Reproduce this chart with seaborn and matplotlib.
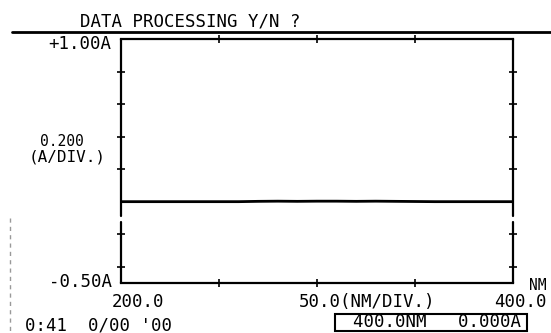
import matplotlib
matplotlib.use("Agg")
import matplotlib.pyplot as plt
from matplotlib.patches import Rectangle
from matplotlib.lines import Line2D
import seaborn as sns
import pandas as pd

# Scan data: wavelength (nm) vs absorbance (A)
wavelength_nm = [200, 230, 260, 270, 280, 290, 300, 310, 320, 330, 340, 350, 360, 380, 400]
absorbance = [0.000, 0.000, 0.000, 0.002, 0.003, 0.002, 0.003, 0.003, 0.002, 0.003, 0.002, 0.001, 0.000, 0.000, 0.000]

x_range = [200.0, 400.0]
y_range = [-0.50, 1.00]
x_ticks = [250, 300, 350]
y_ticks = [-0.4, -0.2, 0.2, 0.4, 0.6, 0.8]

sns.set_style("white")
plt.rcParams['font.family'] = ['DejaVu Sans Mono']

W, H = 551, 333
fig = plt.figure(figsize=(W / 100, H / 100), dpi=100)
ax = fig.add_axes([121 / W, 1 - 283 / H, 392 / W, 244 / H])

df = pd.DataFrame({"nm": wavelength_nm, "A": absorbance})
sns.lineplot(data=df, x="nm", y="A", ax=ax, color="black", lw=2.0)

ax.set_xlim(*x_range)
ax.set_ylim(*y_range)
ax.set_xticks(x_ticks)
ax.set_yticks(y_ticks)
ax.set_xlabel("")
ax.set_ylabel("")
ax.tick_params(direction="inout", length=6, width=1.2, color="black",
               top=True, right=True, bottom=True, left=True,
               labelleft=False, labelbottom=False)

# frame: top and bottom full, side walls broken just below the baseline
for side in ("top", "bottom"):
    ax.spines[side].set_color("black")
    ax.spines[side].set_linewidth(1.6)
for side in ("left", "right"):
    ax.spines[side].set_visible(False)
for xv in x_range:
    ax.plot([xv, xv], [y_range[1], -0.088], color="black", lw=1.6, clip_on=False)
    ax.plot([xv, xv], [-0.125, y_range[0]], color="black", lw=1.6, clip_on=False)


def label(x, y, s, ha="left", size=12.5):
    fig.text(x / W, 1 - y / H, s, ha=ha, va="baseline", fontsize=size, color="black")


# header rule and prompt
fig.add_artist(Line2D([12 / W, 1.0], [1 - 32 / H, 1 - 32 / H], color="black", lw=2.0))
label(80, 27, "DATA PROCESSING Y/N ?")

# y-axis annotations
label(111, 49, "+1.00A", ha="right")
label(62, 146, "0.200", ha="center", size=10.5)
label(67, 162, "(A/DIV.)", ha="center", size=11.5)
label(112, 287, "-0.50A", ha="right")

# x-axis annotations
label(138, 307, "200.0", ha="center")
label(367, 307, "50.0(NM/DIV.)", ha="center")
label(547, 307, "400.0", ha="right")
label(546, 290, "NM", ha="right", size=10.5)

# status line
label(25, 330, "0:41  0/00 '00")
fig.add_artist(Rectangle((335 / W, 1 - 331 / H), (527 - 335) / W, (331 - 314) / H,
                         fill=False, edgecolor="black", lw=1.5, transform=fig.transFigure))
label(437, 327, "400.0NM   0.000A", ha="center")

# faint dotted mark along the left margin
fig.add_artist(Line2D([10 / W, 10 / W], [1 - 218 / H, 0.0], color="#999999",
                      lw=1.0, ls=(0, (3, 3))))

fig.savefig("out.png", dpi=100, facecolor="white")
